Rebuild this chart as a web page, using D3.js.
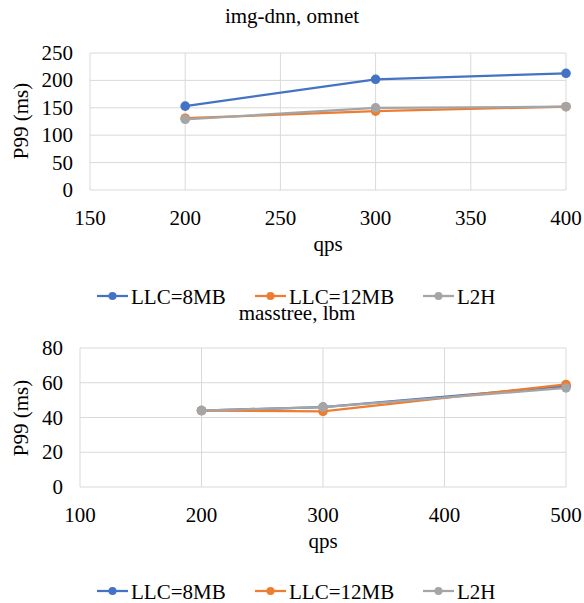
<!DOCTYPE html>
<html>
<head>
<meta charset="utf-8">
<script src="https://cdn.jsdelivr.net/npm/d3@7/dist/d3.min.js"></script>
<style>
  body { margin: 0; background: #fff; }
  .grid line { stroke: #d9d9d9; stroke-width: 1; }
</style>
</head>
<body>
<svg class="chart"></svg>
<script>
var seriesNames = ["LLC=8MB", "LLC=12MB", "L2H"];
var colors = ["#4472c4", "#ed7d31", "#a5a5a5"];

// panel 1: img-dnn, omnet
var qps1 = [200, 300, 400];
var llc8_1 = [153, 202, 213];
var llc12_1 = [131, 144, 152];
var l2h_1 = [129, 150, 152];
var xTicks1 = [150, 200, 250, 300, 350, 400];
var yTicks1 = [0, 50, 100, 150, 200, 250];

// panel 2: masstree, lbm
var qps2 = [200, 300, 500];
var llc8_2 = [44, 46, 58];
var llc12_2 = [44, 43.5, 59];
var l2h_2 = [44, 46, 57];
var xTicks2 = [100, 200, 300, 400, 500];
var yTicks2 = [0, 20, 40, 60, 80];

var width = 584, height = 603;
var font = "Liberation Serif";
var chart = d3.select(".chart").attr("width", width).attr("height", height)
    .attr("font-family", font);

function label(g, x, y, txt, anchor) {
    return g.append("text").attr("x", x).attr("y", y)
        .attr("font-family", font).attr("font-size", 21).attr("fill", "#000")
        .attr("text-anchor", anchor || "middle").text(txt);
}

function drawPanel(p) {
    var g = chart.append("g");
    var x = d3.scaleLinear().domain(d3.extent(p.xTicks)).range([p.left, p.right]);
    var y = d3.scaleLinear().domain(d3.extent(p.yTicks)).range([p.bottom, p.top]);

    var grid = g.append("g").attr("class", "grid");
    grid.selectAll("line.v").data(p.xTicks).enter().append("line")
        .attr("x1", x).attr("x2", x).attr("y1", p.top).attr("y2", p.bottom);
    grid.selectAll("line.h").data(p.yTicks).enter().append("line")
        .attr("x1", p.left).attr("x2", p.right).attr("y1", y).attr("y2", y);

    p.yTicks.forEach(function(d) { label(g, p.left - 17, y(d) + 7, d, "end"); });
    p.xTicks.forEach(function(d) { label(g, x(d), p.bottom + 35, d); });

    label(g, (p.left + p.right) / 2, p.bottom + 61, "qps");
    label(g, 0, 0, "P99 (ms)")
        .attr("transform", "translate(28," + p.yTitle + ") rotate(-90)");
    label(g, p.titleX, p.titleY, p.title);

    var line = d3.line().x(function(d) { return x(d[0]); }).y(function(d) { return y(d[1]); });
    var series = p.series.map(function(vals, i) {
        return { color: colors[i], pts: p.qps.map(function(q, j) { return [q, vals[j]]; }) };
    });
    var sg = g.selectAll("g.series").data(series).enter().append("g");
    sg.append("path").attr("d", function(d) { return line(d.pts); })
        .attr("fill", "none").attr("stroke", function(d) { return d.color; }).attr("stroke-width", 2.25);
    sg.selectAll("circle").data(function(d) { return d.pts.map(function(pt) { return {pt: pt, color: d.color}; }); })
        .enter().append("circle")
        .attr("cx", function(d) { return x(d.pt[0]); }).attr("cy", function(d) { return y(d.pt[1]); })
        .attr("r", 4.8).attr("fill", function(d) { return d.color; });

    var legX = [97, 255, 423];
    var lg = g.selectAll("g.leg").data(seriesNames).enter().append("g")
        .attr("transform", function(d, i) { return "translate(" + legX[i] + "," + p.legendY + ")"; });
    lg.append("line").attr("x1", 0).attr("x2", 31).attr("y1", 0).attr("y2", 0)
        .attr("stroke", function(d, i) { return colors[i]; }).attr("stroke-width", 2.25);
    lg.append("circle").attr("cx", 15.5).attr("cy", 0).attr("r", 4)
        .attr("fill", function(d, i) { return colors[i]; });
    lg.each(function(d) { label(d3.select(this), 34, 8, d, "start"); });
}

drawPanel({
    title: "img-dnn, omnet", titleX: 292, titleY: 23,
    qps: qps1, series: [llc8_1, llc12_1, l2h_1],
    xTicks: xTicks1, yTicks: yTicks1, yTitle: 121,
    left: 90, right: 566, top: 53, bottom: 190, legendY: 296
});
drawPanel({
    title: "masstree, lbm", titleX: 297, titleY: 320,
    qps: qps2, series: [llc8_2, llc12_2, l2h_2],
    xTicks: xTicks2, yTicks: yTicks2, yTitle: 418,
    left: 80, right: 566, top: 348, bottom: 487, legendY: 591
});
</script>
</body>
</html>
